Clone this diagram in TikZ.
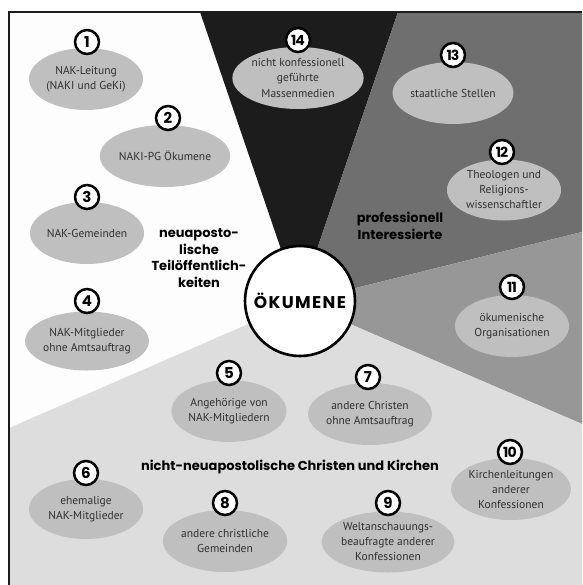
\documentclass[tikz,border=0pt]{standalone}
\usepackage{fontspec}
\setmainfont{PT Sans}
\newfontfamily\futura{Poppins}
\usetikzlibrary{shapes.geometric}
\definecolor{cblack}{HTML}{1C1C1C}
\definecolor{cdark}{HTML}{6F6F6F}
\definecolor{cmed}{HTML}{979797}
\definecolor{clight}{HTML}{DDDDDD}
\definecolor{cwhite}{HTML}{FDFDFD}
\definecolor{cell}{HTML}{BFBFBF}
\definecolor{ctext}{HTML}{303030}
\tikzset{
  grp/.style={ellipse, fill=cell, minimum width=114pt, minimum height=62pt, inner sep=0pt,
    align=center, font=\fontsize{11.5}{15}\selectfont, text=ctext},
  num/.style={circle, draw=black, line width=2.5pt, fill=white, minimum size=24pt, inner sep=0pt,
    font=\futura\bfseries\fontsize{15}{15}\selectfont},
  numtwo/.style={num, font=\futura\bfseries\fontsize{14}{14}\selectfont\addfontfeatures{LetterSpace=-6}},
  lbl/.style={align=center, font=\futura\bfseries\fontsize{13}{16.5}\selectfont, text=black},
}
\begin{document}
\begin{tikzpicture}[x=1pt,y=-1pt]
\useasboundingbox (0,0) rectangle (582,585);
\fill[white] (0,0) rectangle (582,585);
\coordinate (C) at (299,302);
% sectors
\fill[cwhite] (9,12) -- (200,12) -- (C) -- (9,428) -- cycle;
\fill[cblack] (200,12) -- (398,12) -- (C) -- cycle;
\fill[cdark] (398,12) -- (582,12) -- (582,232) -- (C) -- cycle;
\fill[cmed] (582,232) -- (582,424) -- (C) -- cycle;
\fill[clight] (582,424) -- (582,585) -- (9,585) -- (9,428) -- (C) -- cycle;
% frame
\draw[line width=2pt, cblack] (9,585) -- (9,12) -- (582,12);
% ellipses
\node[grp] (e1) at (86,79) {NAK-Leitung\\(NAKI und GeKi)};
\node[grp, minimum width=106pt] (e2) at (165,156) {NAKI-PG Ökumene};
\node[grp] (e3) at (87,233) {NAK-Gemeinden};
\node[grp, minimum height=59pt] (e4) at (87,341) {NAK-Mitglieder\\ohne Amtsauftrag};
\node[grp] (e5) at (229,411) {Angehörige von\\NAK-Mitgliedern};
\node[grp, minimum height=60pt] (e6) at (86,509) {ehemalige\\NAK-Mitglieder};
\node[grp] (e7) at (370,414) {andere Christen\\ohne Amtsauftrag};
\node[grp] (e8) at (225,541) {andere christliche\\Gemeinden};
\node[grp, minimum height=61pt] (e9) at (388,542) {Weltanschauungs-\\beaufragte anderer\\Konfessionen};
\node[grp] (e10) at (511,489) {Kirchenleitungen\\anderer\\Konfessionen};
\node[grp] (e11) at (512,326) {ökumenische\\Organisationen};
\node[grp, minimum height=61pt] (e12) at (504,190) {Theologen und\\Religions-\\wissenschaftler};
\node[grp] (e13) at (453,93) {staatliche Stellen};
\node[grp] (e14) at (298,78) {nicht konfessionell\\geführte\\Massenmedien};
% numbers
\node[num] (n1) at (87,42) {1};
\node[num] (n2) at (168,118) {2};
\node[num] (n3) at (87,197) {3};
\node[num] (n4) at (87,301) {4};
\node[num] (n5) at (229,373) {5};
\node[num] (n6) at (86,473) {6};
\node[num] (n7) at (368,377) {7};
\node[num] (n8) at (225,503) {8};
\node[num] (n9) at (388,503) {9};
\node[numtwo] (n10) at (510,452) {10};
\node[numtwo] (n11) at (512,287) {11};
\node[numtwo] (n12) at (502,152) {12};
\node[numtwo] (n13) at (453,55) {13};
\node[numtwo] (n14) at (298,40) {14};
% centre
\node[circle, draw=black, line width=2.6pt, fill=white, minimum size=110pt, inner sep=0pt,
  font=\futura\bfseries\fontsize{17}{18}\selectfont\addfontfeatures{LetterSpace=8}] (oek) at (300,301) {ÖKUMENE};
% group labels
\node[lbl] (l1) at (199,258) {neuaposto-\\lische\\Teilöffentlich-\\keiten};
\node[lbl] (l2) at (400,226) {professionell\\Interessierte};
\node[lbl] (l3) at (290,467) {nicht-neuapostolische Christen und Kirchen};
\end{tikzpicture}
\end{document}
